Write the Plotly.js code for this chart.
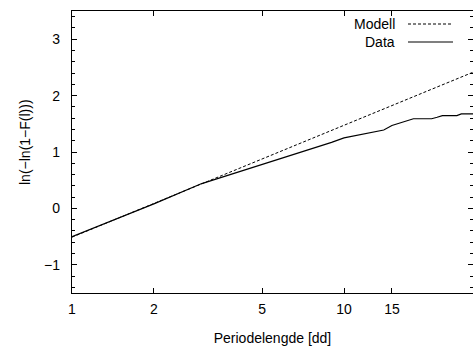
<!DOCTYPE html>
<html>
<head>
<meta charset="utf-8">
<script src="https://cdn.plot.ly/plotly-3.0.1.min.js"></script>
<style>html,body{margin:0;padding:0;background:#fff;}#chart{width:473px;height:349px;}</style>
</head>
<body>
<div id="chart"></div>
<script>
// Data
const modelX = [1, 2, 5, 10, 20, 30];
const modelY = [-0.51, 0.09, 0.877, 1.475, 2.07, 2.42];
const dataX = [1, 2, 3, 4, 5, 6, 7, 8, 9, 10, 11, 12, 13, 14, 15, 16, 17, 18, 19, 20, 21, 22, 23, 24, 25, 26, 27, 28, 29, 30];
const dataY = [-0.50, 0.08, 0.44, 0.63, 0.78, 0.90, 1.00, 1.09, 1.17, 1.25, 1.29, 1.33, 1.36, 1.39, 1.47, 1.51, 1.555, 1.59, 1.59, 1.59, 1.59, 1.617, 1.645, 1.645, 1.645, 1.645, 1.675, 1.675, 1.675, 1.675];
const xTickVals = [1, 2, 5, 10, 15];
const xTickText = ['1', '2', '5', '10', '15'];
const yTickVals = [-1, 0, 1, 2, 3];
const yTickText = ['\u22121', '0', '1', '2', '3'];
const legendNames = ['Modell', 'Data'];

const font = {family: 'Liberation Sans, Arial, sans-serif', size: 14, color: '#000'};

const traces = [
  {x: modelX, y: modelY, mode: 'lines', name: legendNames[0],
   line: {color: '#000', width: 1, dash: '3px,2px'}},
  {x: dataX, y: dataY, mode: 'lines', name: legendNames[1],
   line: {color: '#000', width: 1.15}}
];

const L = 72, R = 0, T = 11, B = 56;
const W = 473, H = 349;
const pw = W - L - R, ph = H - T - B;
const px2paperX = p => (p - L) / pw;
const px2paperY = p => (H - B - p) / ph;

const layout = {
  width: W, height: H,
  margin: {l: L, r: R, t: T, b: B, pad: 0},
  paper_bgcolor: '#fff', plot_bgcolor: '#fff',
  showlegend: false,
  font: font,
  xaxis: {
    type: 'log', range: [0, Math.log10(29.8)],
    tickvals: xTickVals, ticktext: xTickText,
    ticks: 'inside', ticklen: 5, tickwidth: 1, tickcolor: '#000',
    showline: true, linecolor: '#000', linewidth: 1.2, mirror: 'allticks',
    showgrid: false, zeroline: false,
    ticklabelstandoff: 3,
    tickfont: font,
    title: {text: 'Periodelengde [dd]', font: font, standoff: 17}
  },
  yaxis: {
    range: [-1.5, 3.5],
    tickvals: yTickVals, ticktext: yTickText,
    ticks: 'inside', ticklen: 5, tickwidth: 1, tickcolor: '#000',
    minor: {ticks: 'inside', dtick: 0.2, ticklen: 3, tickcolor: '#000', showgrid: false},
    showline: true, linecolor: '#000', linewidth: 1.2, mirror: 'allticks',
    showgrid: false, zeroline: false,
    ticklabelstandoff: 8,
    tickfont: font
  },
  annotations: [
    {xref: 'paper', yref: 'paper', x: px2paperX(397), y: px2paperY(24), xanchor: 'right', yanchor: 'middle',
     text: legendNames[0], showarrow: false, font: font},
    {xref: 'paper', yref: 'paper', x: px2paperX(397), y: px2paperY(42), xanchor: 'right', yanchor: 'middle',
     text: legendNames[1], showarrow: false, font: font},
    {xref: 'paper', yref: 'paper', x: px2paperX(25), y: px2paperY(142), xanchor: 'center', yanchor: 'middle',
     text: 'ln(\u2212ln(1\u2212F(l)))', textangle: -90, showarrow: false, font: font}
  ],
  shapes: [
    {type: 'line', xref: 'paper', yref: 'paper', x0: px2paperX(408), x1: px2paperX(453), y0: px2paperY(24), y1: px2paperY(24),
     line: {color: '#000', width: 1, dash: '3px,2px'}},
    {type: 'line', xref: 'paper', yref: 'paper', x0: px2paperX(408), x1: px2paperX(453), y0: px2paperY(42), y1: px2paperY(42),
     line: {color: '#000', width: 1.15}}
  ]
};

Plotly.newPlot('chart', traces, layout, {displayModeBar: false, staticPlot: true});
</script>
</body>
</html>
